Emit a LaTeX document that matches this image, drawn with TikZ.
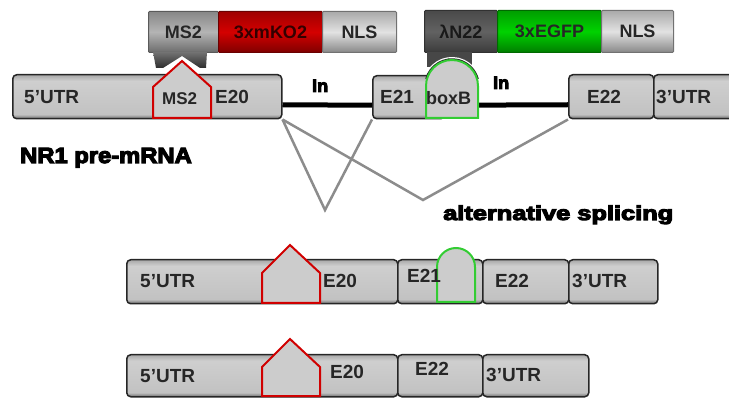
\documentclass[tikz,border=0pt]{standalone}
\usepackage{fontspec}
\usepackage{graphicx}
\setsansfont{Liberation Sans}
\newfontfamily\heavy{Liberation Sans Bold}[FakeBold=5]
\definecolor{ms2gray}{HTML}{B4B4B4}
\definecolor{kored}{HTML}{D40000}
\definecolor{nlsgray}{HTML}{E2E2E2}
\definecolor{lamgray}{HTML}{626262}
\definecolor{gfpgreen}{HTML}{00D200}
\definecolor{housered}{HTML}{D00000}
\definecolor{domegreen}{HTML}{33CC33}
\pgfdeclareverticalshading{exonshade}{100bp}{color(0bp)=(black!58); color(25bp)=(black!58); color(30bp)=(black!24); color(68bp)=(black!19); color(75bp)=(black!34); color(100bp)=(black!34)}
\begin{document}
\begin{tikzpicture}[x=1pt,y=-1pt,
  exon/.style={draw=black!85, line width=1.5pt, rounded corners=4pt,
    shading=exonshade,
    anchor=north west, inner sep=0pt, minimum height=44pt},
  lab/.style={font=\sffamily\bfseries\fontsize{19}{19}\selectfont, text=black!85, inner sep=0pt, anchor=west},
  smalllab/.style={lab, font=\sffamily\bfseries\fontsize{17}{17}\selectfont},
  topbox/.style={anchor=north west, inner sep=0pt, minimum height=41pt, rounded corners=1pt,
    font=\sffamily\bfseries\fontsize{18}{18}\selectfont, text=black!85, line width=1pt},
  tb/.style={topbox, top color=#1!75!black, bottom color=#1!60!black, middle color=#1, draw=#1!50!black},
  intron/.style={line width=5pt, draw=black},
  splice/.style={line width=2.5pt, draw=black!45},
  house/.style={draw=housered, line width=2pt, fill=black!20, line join=miter},
  dome/.style={draw=domegreen, line width=2pt, fill=black!20},
  heavylab/.style={font=\heavy\fontsize{#1}{#1}\selectfont, text=black, inner sep=0pt, anchor=base west}
]
\useasboundingbox (0,0) rectangle (729,398);

% ---------- fusion proteins ----------
\node[tb=ms2gray, minimum width=70pt] (ms2) at (148,11) {MS2};
\node[tb=kored, minimum width=104pt, text=black!80!red] (ko) at (218,11) {3xmKO2};
\node[tb=nlsgray, minimum width=74pt] (nls1) at (322,11) {NLS};
\node[tb=lamgray, minimum width=73pt, minimum height=42pt, text=black!90] (lam) at (424,10) {λN22};
\node[tb=gfpgreen, minimum width=104pt, minimum height=42pt] (gfp) at (497,10) {3xEGFP};
\node[tb=nlsgray, minimum width=72pt, minimum height=42pt] (nls2) at (601,10) {NLS};

% MS2 binding tab
\shade[top color=black!55, bottom color=black!82]
  (153,52) -- (207,52) -- (206,68) -- (200,68) -- (182,56) -- (163,68) -- (156,68) -- cycle;
% lambda N22 tab
\fill[black!72] (427,52) rectangle (472,67);

% ---------- pre-mRNA ----------
\node[exon, minimum width=269pt] (p1) at (12,74) {};
\node[exon, minimum width=72pt, minimum height=43pt] (p2) at (372,75) {};
\node[exon, minimum width=85pt] (p3) at (568,74) {};
\node[exon, minimum width=85pt] (p4) at (653,74) {};
\draw[intron] ([yshift=-8pt]p1.east) -- ([yshift=-8pt]p2.west);
\draw[intron] ([yshift=-8pt]p2.east) -- ([yshift=-8pt]p3.west);
\draw[house] (153,118) -- (153,87) -- (182,61) -- (211,87) -- (211,118) -- cycle;
\draw[white, line width=6pt] (452,86) ++(155:26pt) arc[start angle=155, end angle=25, radius=26pt];
\draw[black!85, line width=3.5pt] (452,86) ++(165:26pt) arc[start angle=165, end angle=15, radius=26pt];
\draw[dome] (426,118) -- (426,86) arc[start angle=180, end angle=0, radius=26pt] -- (478,118) -- cycle;

\node[lab] (t5a) at (24,97) {5’UTR};
\node[smalllab] (tms2) at (162,99) {MS2};
\node[lab] (t20a) at (215,97) {E20};
\node[lab] (t21a) at (380,97) {E21};
\node[smalllab, font=\sffamily\bfseries\fontsize{18}{18}\selectfont] (tbox) at (426,98) {boxB};
\node[lab] (t22a) at (587,97) {E22};
\node[lab] (t3a) at (656,97) {3’UTR};
\node[heavylab=18] (in1) at (312,92) {In};
\node[heavylab=18] (in2) at (493,89) {In};

\node[heavylab=22] (nr1) at (20,163) {\scalebox{1.08}[1]{NR1 pre-mRNA}};

% ---------- splicing ----------
\coordinate (v1) at (325,210);
\coordinate (v2) at (423,200);
\draw[splice] (p1.south east) -- (v1) -- (p2.south west);
\draw[splice] (p1.south east) -- (v2) -- (p3.south west);
\node[heavylab=20] (alt) at (443,220) {\scalebox{1.27}[1]{alternative splicing}};

% ---------- mRNA with E21 ----------
\node[exon, minimum width=271pt] (a1) at (126,259) {};
\node[exon, minimum width=85pt] (a2) at (397,259) {};
\node[exon, minimum width=86pt] (a3) at (482,259) {};
\node[exon, minimum width=89pt] (a4) at (568,259) {};
\draw[house] (262,303) -- (262,273) -- (290,245) -- (320,273) -- (320,303) -- cycle;
\node[lab] (t5b) at (140,281) {5’UTR};
\node[lab] (t20b) at (323,281) {E20};
\draw[dome] (437,302) -- (437,267) arc[start angle=180, end angle=0, radius=19pt] -- (475,302) -- cycle;
\node[lab] (t21b) at (407,276) {E21};
\node[lab] (t22b) at (495,281) {E22};
\node[lab] (t3b) at (572,281) {3’UTR};

% ---------- mRNA without E21 ----------
\node[exon, minimum width=271pt, minimum height=42pt] (b1) at (126,354) {};
\node[exon, minimum width=85pt, minimum height=42pt] (b2) at (397,354) {};
\node[exon, minimum width=106pt, minimum height=42pt] (b3) at (482,354) {};
\draw[house] (262,396) -- (262,367) -- (290,339) -- (320,367) -- (320,396) -- cycle;
\node[lab] (t5c) at (140,376) {5’UTR};
\node[lab] (t20c) at (330,372) {E20};
\node[lab] (t22c) at (415,369) {E22};
\node[lab] (t3c) at (486,375) {3’UTR};
\end{tikzpicture}
\end{document}
